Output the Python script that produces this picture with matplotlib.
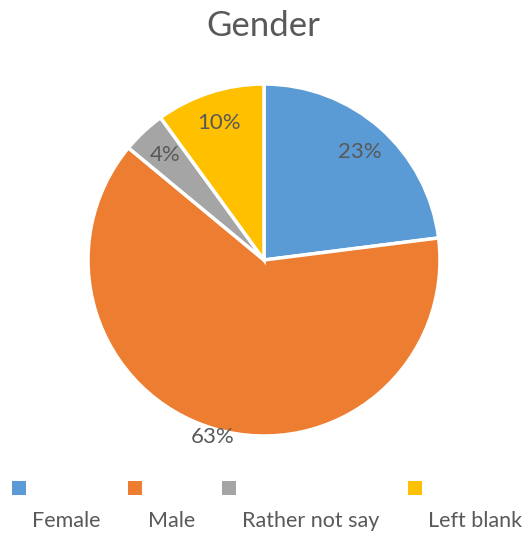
import matplotlib
matplotlib.use('Agg')
import matplotlib.pyplot as plt
from matplotlib.patches import Rectangle

# Data.
categories = ["Female", "Male", "Rather not say", "Left blank"]
shares = [23, 63, 4, 10]
colors = ["#5B9BD5", "#ED7D31", "#A5A5A5", "#FFC000"]

TEXT_GRAY = "#595959"
W, H = 524, 535

plt.rcParams['font.family'] = ['Lato', 'DejaVu Sans']

fig = plt.figure(figsize=(W / 100, H / 100), dpi=100)

# pie centre (264, 260) px, radius 176 px
cx, cy, r = 264, 260, 176
ax = fig.add_axes([(cx - r) / W, (H - cy - r) / H, 2 * r / W, 2 * r / H])

wedges, texts, autotexts = ax.pie(
    shares,
    colors=colors,
    startangle=90,
    counterclock=False,
    autopct=lambda p: "{:.0f}%".format(p),
    pctdistance=0.82,
    wedgeprops=dict(edgecolor="white", linewidth=2.5),
    textprops=dict(color=TEXT_GRAY, fontsize=16),
)
# Male label sits just outside the slice
x, y = autotexts[1].get_position()
autotexts[1].set_position((x * 1.05 / 0.82, y * 1.05 / 0.82))

ax.set_xlim(-1, 1)
ax.set_ylim(-1, 1)
ax.set_aspect('equal')
ax.axis('off')

fig.text(263 / W, 1 - 26 / H, "Gender", ha='center', va='center',
         fontsize=25, color=TEXT_GRAY)

# legend: square on top, label below and to the right
legend_x = [12, 128, 222, 408]
for name, col, lx in zip(categories, colors, legend_x):
    fig.patches.append(Rectangle((lx / W, 1 - 495 / H), 14 / W, 14 / H,
                                 transform=fig.transFigure, facecolor=col,
                                 edgecolor='none'))
    fig.text((lx + 20) / W, 1 - 521 / H, name, ha='left', va='center',
             fontsize=15.5, color=TEXT_GRAY)

fig.savefig("out.png", dpi=100)
